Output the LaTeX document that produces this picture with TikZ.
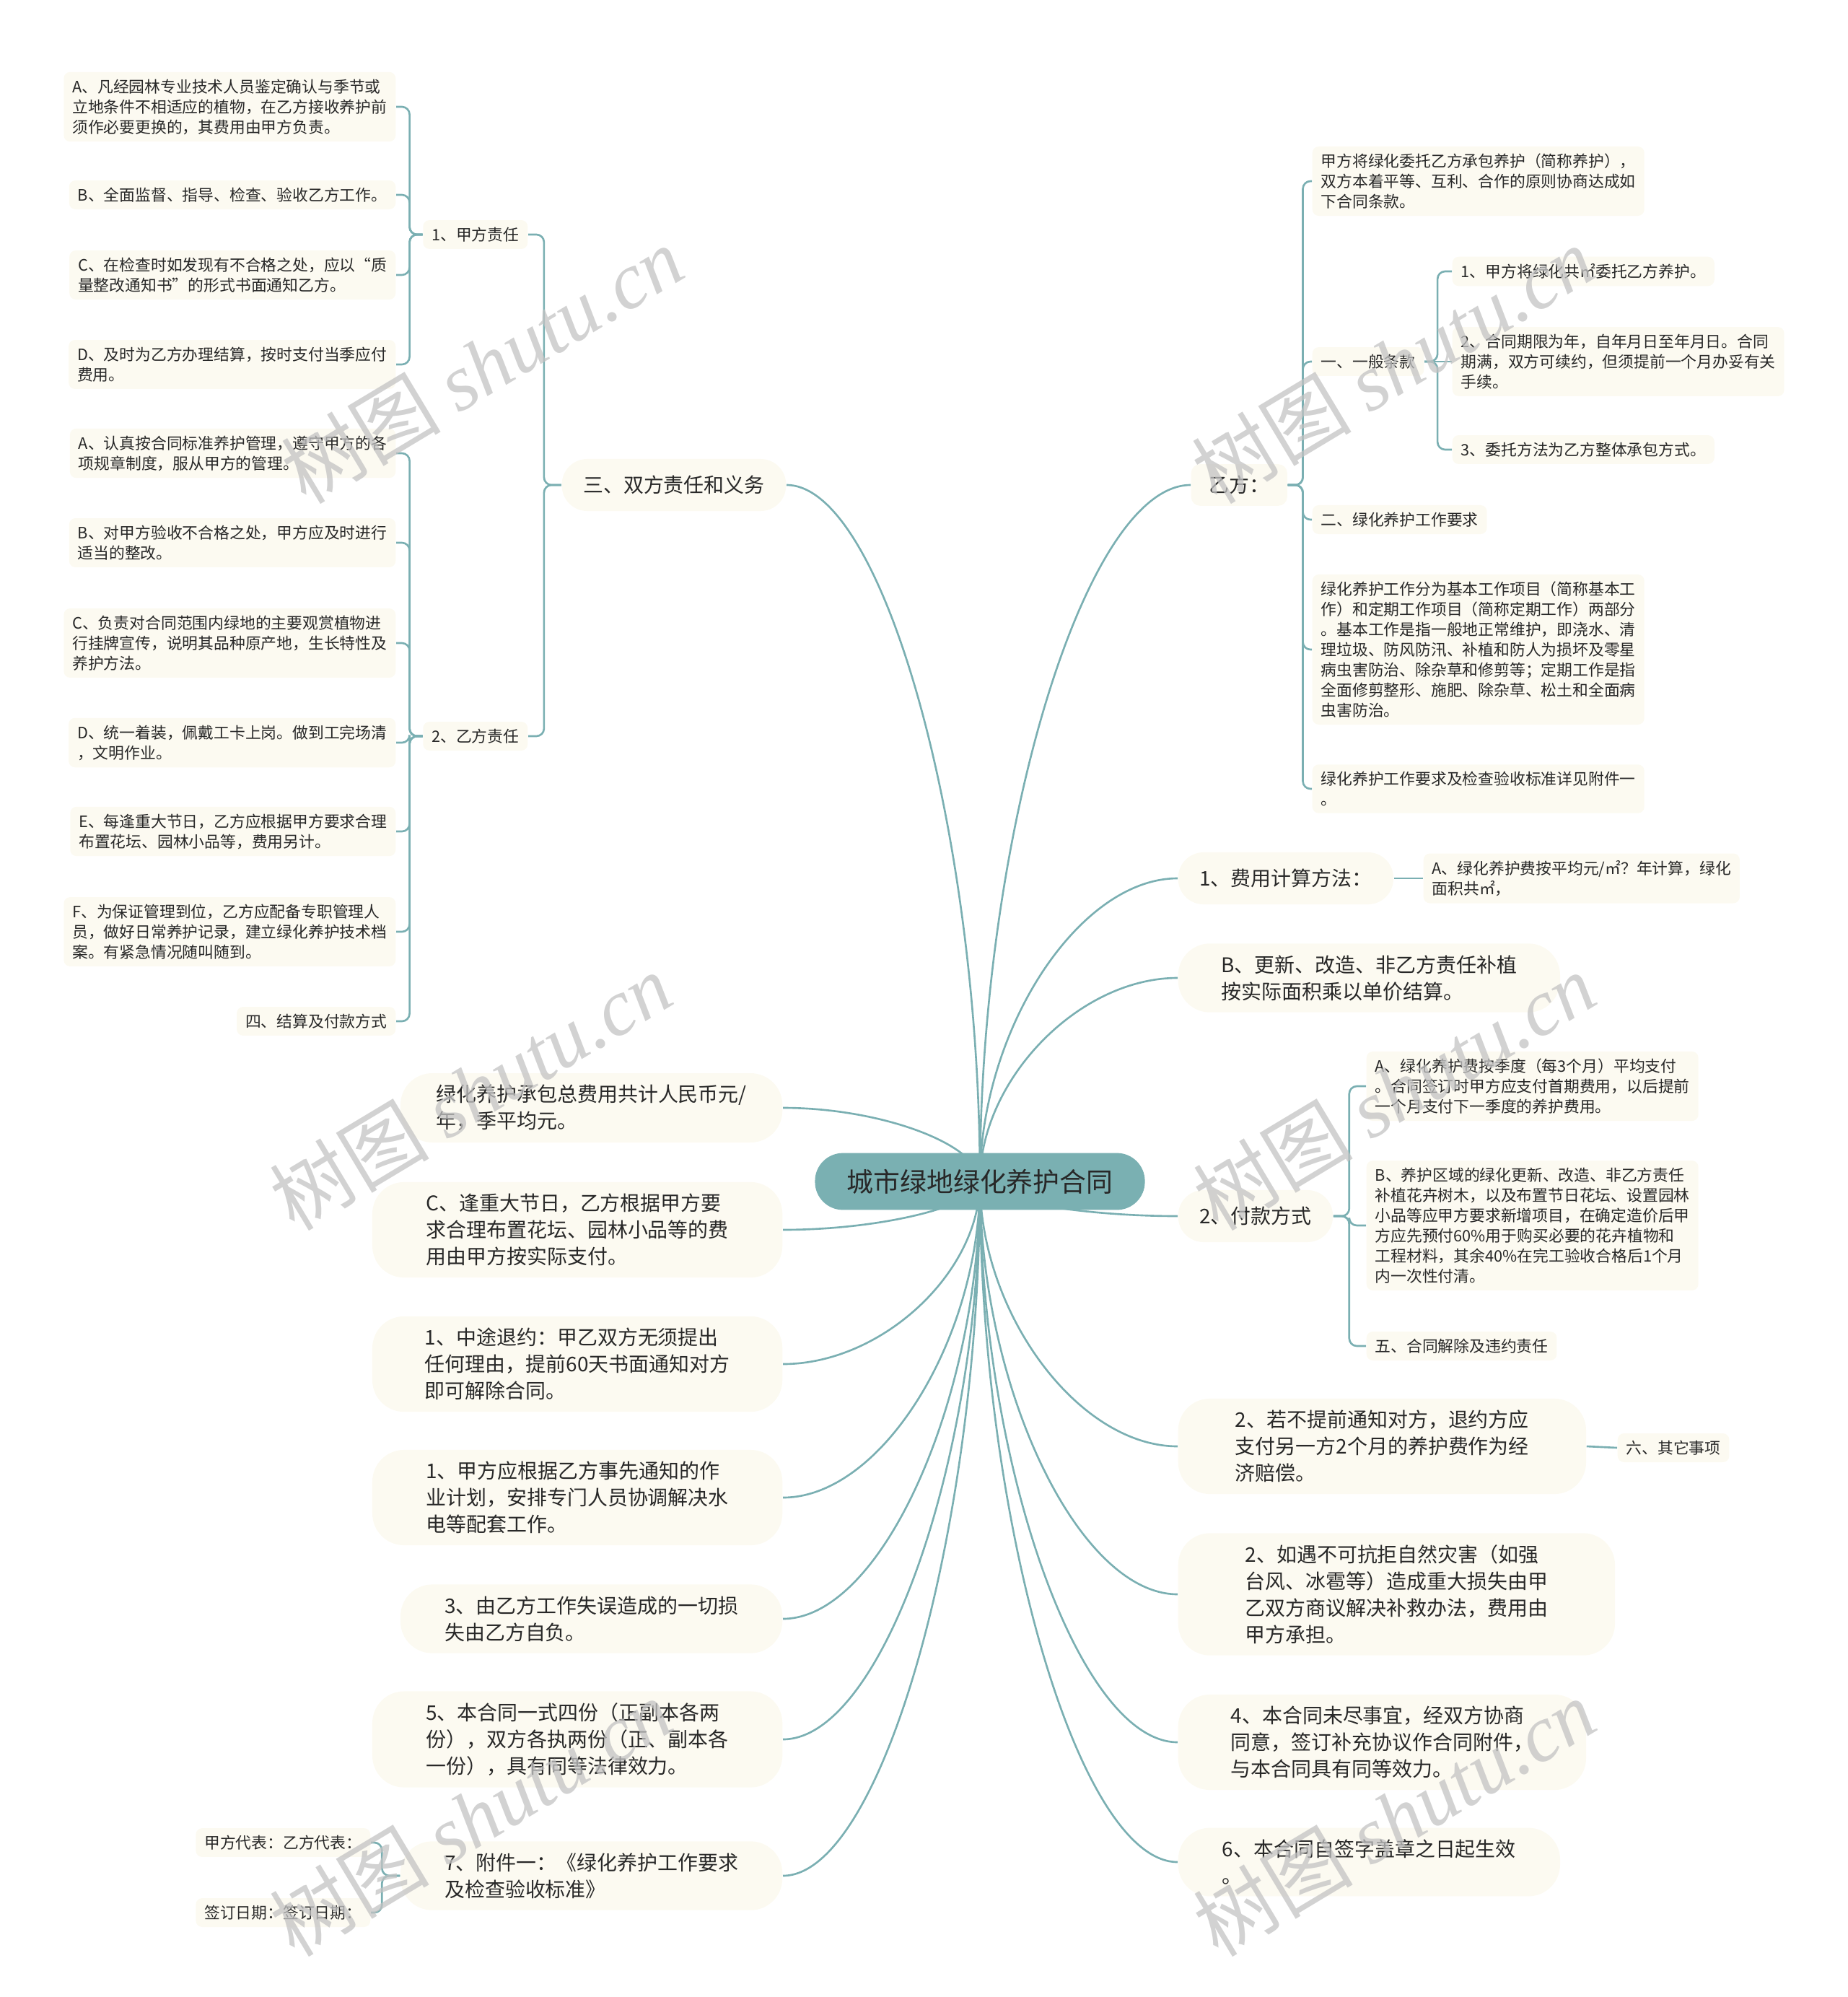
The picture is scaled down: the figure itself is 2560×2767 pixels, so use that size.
\documentclass[tikz,border=0pt]{standalone}
\usepackage{fontspec}
\setmainfont{Noto Sans CJK SC}
\newfontfamily\wmfont{Liberation Serif}
\usetikzlibrary{calc,backgrounds}

\definecolor{linecol}{RGB}{122,175,178}
\definecolor{nodebg}{RGB}{252,250,241}
\definecolor{rootbg}{RGB}{122,176,178}
\definecolor{textcol}{RGB}{40,40,40}
\definecolor{wmcol}{RGB}{195,195,195}

\newcommand\leaffont{\fontsize{6.2pt}{7.95pt}\selectfont}
\newcommand\midfont{\fontsize{7.95pt}{10.5pt}\selectfont}
\newcommand\rootfont{\fontsize{10.5pt}{12.6pt}\selectfont}

\tikzset{
  leaf/.style={fill=nodebg, rounded corners=2.5pt, inner xsep=3.4pt, inner ysep=2.8pt, align=left, font=\leaffont, text=textcol},
  tag/.style={fill=nodebg, rounded corners=3.5pt, inner xsep=7pt, minimum height=16.4pt, font=\midfont, text=textcol},
  pill/.style={fill=nodebg, rounded corners=10pt, inner xsep=8.4pt, minimum height=20.5pt, font=\midfont, text=textcol},
  bigbox/.style={fill=nodebg, rounded corners=12.5pt, inner ysep=4.6pt, minimum width=#1, align=left, font=\midfont, text=textcol},
  bigbox/.default=5.68cm,
  rootbox/.style={fill=rootbg, rounded corners=11pt, inner xsep=12.5pt, minimum height=22.4pt, font=\rootfont, text=textcol},
  branch/.style={draw=linecol, line width=0.75pt},
  tree/.style={branch, rounded corners=3pt},
  watermark/.style={text=wmcol, opacity=0.75, rotate=31, font=\fontsize{31.5pt}{32pt}\selectfont}
}

\begin{document}
\begin{tikzpicture}[x=0.01cm,y=-0.01cm]
\useasboundingbox (0,0) rectangle (2560,2767);

\node[rootbox] (contract) at (1358,1637) {城市绿地绿化养护合同};

% left side
\node[pill, anchor=east] (duty) at (1090,672) {三、双方责任和义务};
\node[bigbox=5.29cm, anchor=east] (fee) at (1085,1535) {绿化养护承包总费用共计人民币元/\\年，季平均元。};
\node[bigbox, anchor=east] (festival) at (1085,1704) {C、逢重大节日，乙方根据甲方要\\求合理布置花坛、园林小品等的费\\用由甲方按实际支付。};
\node[bigbox, anchor=east] (quit) at (1085,1890) {1、中途退约：甲乙双方无须提出\\任何理由，提前60天书面通知对方\\即可解除合同。};
\node[bigbox, anchor=east] (water) at (1085,2075) {1、甲方应根据乙方事先通知的作\\业计划，安排专门人员协调解决水\\电等配套工作。};
\node[bigbox=5.29cm, anchor=east] (loss) at (1085,2243) {3、由乙方工作失误造成的一切损\\失由乙方自负。};
\node[bigbox, anchor=east] (copies) at (1085,2410) {5、本合同一式四份（正副本各两\\份），双方各执两份（正、副本各\\一份），具有同等法律效力。};
\node[bigbox=5.29cm, anchor=east] (annex) at (1085,2599) {7、附件一：《绿化养护工作要求\\及检查验收标准》};

% right side
\node[tag, anchor=west] (yifang) at (1650,672) {乙方：};
\node[pill, anchor=west] (calc) at (1632,1217) {1、费用计算方法：};
\node[bigbox=5.29cm, anchor=west] (renew) at (1632,1355) {B、更新、改造、非乙方责任补植\\按实际面积乘以单价结算。};
\node[pill, anchor=west] (pay) at (1632,1685) {2、付款方式};
\node[bigbox=5.65cm, anchor=west] (notice) at (1632,2004) {2、若不提前通知对方，退约方应\\支付另一方2个月的养护费作为经\\济赔偿。};
\node[bigbox=6.05cm, anchor=west] (disaster) at (1632,2209) {2、如遇不可抗拒自然灾害（如强\\台风、冰雹等）造成重大损失由甲\\乙双方商议解决补救办法，费用由\\甲方承担。};
\node[bigbox=5.65cm, anchor=west] (supp) at (1632,2414) {4、本合同未尽事宜，经双方协商\\同意，签订补充协议作合同附件，\\与本合同具有同等效力。};
\node[bigbox=5.29cm, anchor=west] (effect) at (1632,2580) {6、本合同自签字盖章之日起生效\\。};

% duties of both parties
\node[leaf, anchor=east] (jia) at (732,325) {1、甲方责任};
\node[leaf, anchor=east] (yi) at (732,1020) {2、乙方责任};
\node[leaf, anchor=east] (jiaA) at (549,148) {A、凡经园林专业技术人员鉴定确认与季节或\\立地条件不相适应的植物，在乙方接收养护前\\须作必要更换的，其费用由甲方负责。};
\node[leaf, anchor=east] (jiaB) at (549,270) {B、全面监督、指导、检查、验收乙方工作。};
\node[leaf, anchor=east] (jiaC) at (549,381) {C、在检查时如发现有不合格之处，应以“质\\量整改通知书”的形式书面通知乙方。};
\node[leaf, anchor=east] (jiaD) at (549,505) {D、及时为乙方办理结算，按时支付当季应付\\费用。};
\node[leaf, anchor=east] (yiA) at (549,628) {A、认真按合同标准养护管理，遵守甲方的各\\项规章制度，服从甲方的管理。};
\node[leaf, anchor=east] (yiB) at (549,752) {B、对甲方验收不合格之处，甲方应及时进行\\适当的整改。};
\node[leaf, anchor=east] (yiC) at (549,891) {C、负责对合同范围内绿地的主要观赏植物进\\行挂牌宣传，说明其品种原产地，生长特性及\\养护方法。};
\node[leaf, anchor=east] (yiD) at (549,1029) {D、统一着装，佩戴工卡上岗。做到工完场清\\，文明作业。};
\node[leaf, anchor=east] (yiE) at (549,1152) {E、每逢重大节日，乙方应根据甲方要求合理\\布置花坛、园林小品等，费用另计。};
\node[leaf, anchor=east] (yiF) at (549,1291) {F、为保证管理到位，乙方应配备专职管理人\\员，做好日常养护记录，建立绿化养护技术档\\案。有紧急情况随叫随到。};
\node[leaf, anchor=east] (settle) at (549,1415) {四、结算及付款方式};

% party B branch
\node[leaf, anchor=west] (intro) at (1818,251) {甲方将绿化委托乙方承包养护（简称养护），\\双方本着平等、互利、合作的原则协商达成如\\下合同条款。};
\node[leaf, anchor=west] (general) at (1818,501) {一、一般条款};
\node[leaf, anchor=west] (req) at (1818,720) {二、绿化养护工作要求};
\node[leaf, anchor=west] (work) at (1818,900) {绿化养护工作分为基本工作项目（简称基本工\\作）和定期工作项目（简称定期工作）两部分\\。基本工作是指一般地正常维护，即浇水、清\\理垃圾、防风防汛、补植和防人为损坏及零星\\病虫害防治、除杂草和修剪等；定期工作是指\\全面修剪整形、施肥、除杂草、松土和全面病\\虫害防治。};
\node[leaf, anchor=west] (attach) at (1818,1093) {绿化养护工作要求及检查验收标准详见附件一\\。};
\node[leaf, anchor=west] (gen1) at (2012,376) {1、甲方将绿化共㎡委托乙方养护。};
\node[leaf, anchor=west] (gen2) at (2012,501) {2、合同期限为年，自年月日至年月日。合同\\期满，双方可续约，但须提前一个月办妥有关\\手续。};
\node[leaf, anchor=west] (gen3) at (2012,623) {3、委托方法为乙方整体承包方式。};

% payment
\node[leaf, anchor=west] (calcA) at (1972,1217) {A、绿化养护费按平均元/㎡？年计算，绿化\\面积共㎡，};
\node[leaf, anchor=west] (payA) at (1893,1505) {A、绿化养护费按季度（每3个月）平均支付\\。合同签订时甲方应支付首期费用，以后提前\\一个月支付下一季度的养护费用。};
\node[leaf, anchor=west] (payB) at (1893,1698) {B、养护区域的绿化更新、改造、非乙方责任\\补植花卉树木，以及布置节日花坛、设置园林\\小品等应甲方要求新增项目，在确定造价后甲\\方应先预付60\%用于购买必要的花卉植物和\\工程材料，其余40\%在完工验收合格后1个月\\内一次性付清。};
\node[leaf, anchor=west] (terminate) at (1893,1865) {五、合同解除及违约责任};
\node[leaf, anchor=west] (other) at (2241,2006) {六、其它事项};

% signatures
\node[leaf, anchor=east] (rep) at (514,2553) {甲方代表：乙方代表：};
\node[leaf, anchor=east] (date) at (514,2650) {签订日期：签订日期：};

\begin{scope}[on background layer]
\foreach \n in {yifang,calc,renew,pay,notice,disaster,supp,effect}{
  \coordinate (m) at ($(contract.center)!.5!(\n.west)$);
  \draw[branch] (contract.center) .. controls (contract.center |- m) and (m |- \n.west) .. (\n.west);
}
\foreach \n in {duty,fee,festival,quit,water,loss,copies,annex}{
  \coordinate (m) at ($(contract.center)!.5!(\n.east)$);
  \draw[branch] (contract.center) .. controls (contract.center |- m) and (m |- \n.east) .. (\n.east);
}

\foreach \c in {jia,yi} \draw[tree] (duty.west) -- ++(-24,0) |- (\c.east);
\foreach \c in {jiaA,jiaB,jiaC,jiaD} \draw[tree] (jia.west) -- ++(-18,0) |- (\c.east);
\foreach \c in {yiA,yiB,yiC,yiD,yiE,yiF,settle} \draw[tree] (yi.west) -- ++(-18,0) |- (\c.east);
\foreach \c in {intro,general,req,work,attach} \draw[tree] (yifang.east) -- ++(21,0) |- (\c.west);
\foreach \c in {gen1,gen3} \draw[tree] (general.east) -- ++(18,0) |- (\c.west);
\draw[branch] (general.east) -- (gen2.west);
\foreach \c in {payA,payB,terminate} \draw[tree] (pay.east) -- ++(22,0) |- (\c.west);
\foreach \c in {rep,date} \draw[tree] (annex.west) -- ++(-25,0) |- (\c.east);
\draw[branch] (calc.east) -- (calcA.west);
\draw[branch] (notice.east) -- (other.west);
\end{scope}

\foreach \i/\x/\y in {1/668/505,2/1930/505,3/652/1512,4/1932/1512,5/652/2518,6/1932/2518}
  \node[watermark] (wm\i) at (\x,\y) {树图 {\wmfont\itshape shutu.cn}};
\end{tikzpicture}
\end{document}
